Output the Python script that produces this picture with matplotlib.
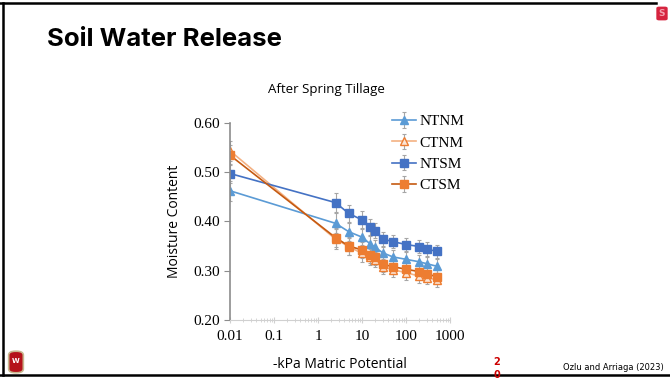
import matplotlib.pyplot as plt
import matplotlib.patches as mpatches
import numpy as np

# suction (-kPa) and moisture content
kpa = [0.01, 2.5, 5, 10, 15, 20, 30, 50, 100, 200, 300, 500]
ntnm = [0.462, 0.396, 0.379, 0.368, 0.355, 0.347, 0.336, 0.328, 0.323, 0.318, 0.314, 0.309]
ctnm = [0.543, 0.364, 0.349, 0.335, 0.327, 0.322, 0.308, 0.302, 0.296, 0.289, 0.286, 0.281]
ntsm = [0.497, 0.438, 0.416, 0.403, 0.389, 0.381, 0.364, 0.359, 0.353, 0.349, 0.344, 0.339]
ctsm = [0.534, 0.367, 0.350, 0.342, 0.332, 0.327, 0.313, 0.308, 0.303, 0.298, 0.293, 0.288]
err = [0.02, 0.02, 0.018, 0.017, 0.016, 0.015, 0.015, 0.014, 0.014, 0.014, 0.014, 0.014]

xticks = [0.01, 0.1, 1, 10, 100, 1000]
xtick_labels = ['0.01', '0.1', '1', '10', '100', '1000']
yticks = [0.20, 0.30, 0.40, 0.50, 0.60]

fig = plt.figure(figsize=(6.7, 3.81), dpi=100)

# slide frame
fig.add_artist(plt.Line2D([0, 656/670], [1-3/381, 1-3/381], color='black', lw=1.8))
fig.add_artist(plt.Line2D([3/670, 3/670], [1-3/381, 1-375/381], color='black', lw=1.8))
fig.add_artist(plt.Line2D([0, 1], [1-375/381, 1-375/381], color='black', lw=1.8))

fig.text(47/670, 1-40/381, 'Soil Water Release', fontsize=18.5, fontweight='bold',
         family='Inter', va='center', ha='left')

# small logo top right
logo = mpatches.FancyBboxPatch((657/670, 1-20/381), 10/670, 13/381,
                               boxstyle='round,pad=0.001,rounding_size=0.004',
                               transform=fig.transFigure, facecolor='#d6243f', edgecolor='none')
fig.add_artist(logo)
fig.text(662/670, 1-13.5/381, 'S', fontsize=6.5, fontweight='bold', color='#f3a0ad',
         va='center', ha='center')

fig.text(497/670, 1-362/381, '2', fontsize=7, fontweight='bold', color='#cc0000',
         va='center', ha='center')
fig.text(497/670, 1-375/381, '0', fontsize=7, fontweight='bold', color='#cc0000',
         va='center', ha='center')
fig.text(664/670, 1-367/381, 'Ozlu and Arriaga (2023)', fontsize=6, family='Liberation Sans Narrow',
         va='center', ha='right')

# crest
crest = mpatches.FancyBboxPatch((10/670, 1-372/381), 12/670, 20/381,
                                boxstyle='round,pad=0.002,rounding_size=0.01',
                                transform=fig.transFigure, facecolor='#b5121b', edgecolor='#c8b890', lw=1.2)
fig.add_artist(crest)
fig.text(16/670, 1-361/381, 'W', fontsize=5, fontweight='bold', color='white', ha='center', va='center')

ax = fig.add_axes([230/670, 1-320/381, 220/670, (320-122.7)/381])

common = dict(ecolor='#a6a6a6', elinewidth=0.8, capsize=1.5, capthick=0.8, markersize=5.5, lw=1.2)
ax.errorbar(kpa, ntnm, yerr=err, color='#5b9bd5', marker='^', label='NTNM', **common)
ax.errorbar(kpa, ctnm, yerr=err, color='#f4b183', marker='^', mfc='#fbe5d6', mec='#ed7d31',
            label='CTNM', **common)
ax.errorbar(kpa, ntsm, yerr=err, color='#4472c4', marker='s', label='NTSM', **common)
ax.errorbar(kpa, ctsm, yerr=err, color='#c55a11', marker='s', mfc='#ed7d31', mec='#ed7d31',
            label='CTSM', **common)

ax.set_xscale('log')
ax.set_xlim(0.01, 1000)
ax.set_ylim(0.2, 0.6)
ax.set_xticks(xticks)
ax.set_xticklabels(xtick_labels)
ax.set_yticks(yticks)
ax.set_yticklabels(['%.2f' % v for v in yticks])

for s in ['top', 'right']:
    ax.spines[s].set_visible(False)
ax.spines['left'].set_color('#8c8c8c')
ax.spines['left'].set_linewidth(1.2)
ax.spines['bottom'].set_color('#d0d0d0')
ax.tick_params(axis='x', which='both', direction='inout', colors='#d0d0d0', labelcolor='black',
               labelsize=11, length=5, pad=5)
ax.tick_params(axis='x', which='minor', length=3)
ax.tick_params(axis='y', colors='#8c8c8c', labelcolor='black', labelsize=11, length=4)
for lab in ax.get_xticklabels() + ax.get_yticklabels():
    lab.set_family('Liberation Serif')

ax.set_ylabel('Moisture Content', fontsize=10, family='Open Sans', labelpad=8)
ax.set_xlabel('-kPa Matric Potential', fontsize=10, family='Open Sans', labelpad=10)
fig.text(326/670, 1-90/381, 'After Spring Tillage', fontsize=9.5, family='Open Sans',
         ha='center', va='center')

leg = ax.legend(loc='upper left', bbox_to_anchor=(0.70, 1.08), frameon=False,
                prop={'family': 'Liberation Serif', 'size': 11}, handlelength=1.6,
                handletextpad=0.2, labelspacing=0.5, borderpad=0)

fig.savefig('out.png', dpi=100)
